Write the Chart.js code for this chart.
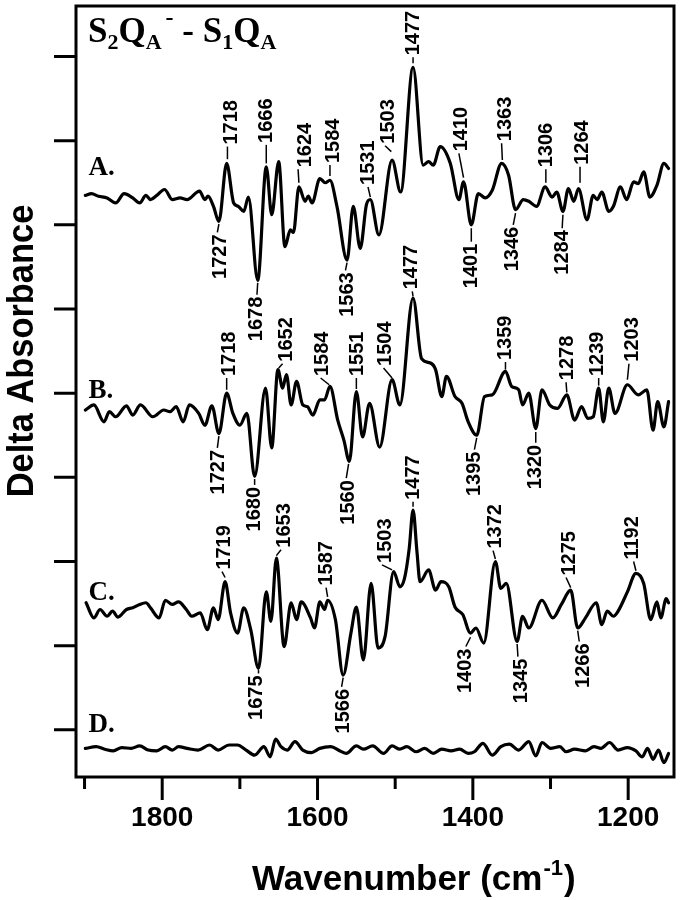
<!DOCTYPE html>
<html><head><meta charset="utf-8">
<script src="https://cdn.jsdelivr.net/npm/chart.js@4.4.1/dist/chart.umd.min.js"></script>
<style>html,body{margin:0;padding:0;background:#fff}canvas{display:block}</style>
</head><body>
<canvas id="c" width="682" height="900" style="width:682px;height:900px"></canvas>
<script>
// ---------- data (wavenumber, cm-1  /  delta absorbance, offset units) ----------
const aWn = [1899,1891,1882,1871,1860,1849,1838,1829,1821,1815,1807,1797,1787,1777,1768,1752,1745,1741,1734,1727,1717,1708,1702,1695,1689,1677,1666,1659,1650,1642,1635,1631,1624,1616,1612,1607,1597,1590,1584,1575,1562,1554,1545,1537,1532,1521,1504,1493,1477,1464,1457,1451,1442,1429,1418,1412,1402,1393,1384,1375,1363,1354,1345,1335,1328,1318,1307,1298,1292,1284,1277,1270,1264,1253,1245,1240,1234,1225,1219,1210,1202,1193,1187,1180,1172,1163,1154,1148];
const aVal = [6.35,6.37,6.34,6.32,6.26,6.37,6.32,6.26,6.35,6.30,6.35,6.42,6.30,6.32,6.30,6.40,6.30,6.34,6.22,6.04,6.73,6.26,6.22,6.16,6.33,5.34,6.69,6.12,6.75,5.74,5.94,5.91,6.45,6.28,6.34,6.26,6.55,6.50,6.53,6.22,5.58,6.22,5.72,6.24,6.30,5.88,6.77,6.39,7.87,6.71,6.75,6.71,6.93,6.73,6.30,6.51,6.00,6.37,6.32,6.41,6.73,6.59,6.18,6.30,6.28,6.22,6.45,6.33,6.39,6.16,6.43,6.28,6.43,6.06,6.35,6.30,6.39,6.16,6.22,6.45,6.30,6.51,6.49,6.63,6.33,6.47,6.73,6.67];

const bWn = [1899,1888,1875,1868,1860,1846,1838,1828,1812,1798,1790,1782,1773,1765,1753,1745,1736,1727,1717,1709,1700,1691,1681,1667,1659,1651,1645,1640,1634,1627,1619,1613,1606,1597,1591,1584,1574,1566,1559,1550,1542,1533,1520,1504,1494,1477,1466,1455,1448,1440,1434,1423,1414,1406,1395,1385,1375,1358,1350,1341,1336,1328,1319,1311,1301,1291,1279,1269,1260,1252,1245,1238,1232,1225,1217,1201,1187,1176,1168,1162,1154,1148];
const bVal = [3.80,3.86,3.66,3.78,3.72,3.85,3.74,3.86,3.72,3.80,3.78,3.84,3.66,3.86,3.76,3.62,3.85,3.52,4.00,3.76,3.62,3.76,3.01,4.06,3.35,4.28,4.06,4.22,3.86,4.14,3.86,3.84,3.74,3.92,3.92,4.08,3.68,3.44,3.19,4.02,3.48,3.88,3.36,4.16,3.86,5.13,4.41,4.36,4.28,3.96,4.20,3.96,3.88,3.66,3.50,3.96,3.98,4.26,4.08,4.04,3.86,4.00,3.58,4.04,3.86,3.82,3.98,3.68,3.84,3.70,3.72,4.06,3.66,4.06,3.76,4.10,3.98,4.04,3.56,3.90,3.60,3.90];

const cWn = [1898,1888,1880,1871,1864,1857,1846,1838,1829,1821,1815,1804,1796,1787,1779,1769,1762,1751,1742,1734,1728,1719,1712,1703,1695,1686,1676,1666,1660,1653,1643,1634,1627,1621,1609,1604,1597,1591,1587,1577,1567,1557,1550,1541,1531,1522,1513,1502,1494,1488,1482,1477,1472,1468,1457,1448,1441,1431,1423,1413,1403,1396,1386,1371,1364,1357,1343,1336,1328,1311,1297,1286,1274,1265,1255,1241,1234,1227,1219,1213,1201,1190,1180,1171,1163,1158,1151,1148];
const cVal = [1.51,1.33,1.43,1.35,1.41,1.34,1.43,1.45,1.49,1.51,1.45,1.33,1.54,1.49,1.52,1.43,1.35,1.39,1.19,1.45,1.31,1.76,1.39,1.15,1.45,1.19,0.73,1.64,1.29,2.04,0.99,1.51,1.31,1.52,1.33,1.21,1.52,1.43,1.54,1.31,0.65,1.15,1.46,0.83,1.74,0.97,1.11,1.88,1.70,1.80,2.15,2.61,2.12,1.76,1.90,1.66,1.76,1.70,1.46,1.37,1.15,1.21,1.03,2.00,1.68,1.74,1.05,1.35,1.21,1.54,1.33,1.49,1.66,1.21,1.33,1.51,1.25,1.41,1.35,1.41,1.64,1.86,1.74,1.31,1.52,1.33,1.56,1.51];

const dWn = [1899,1885,1874,1863,1852,1840,1829,1818,1807,1796,1787,1779,1768,1754,1739,1728,1714,1703,1692,1681,1669,1661,1654,1647,1639,1629,1619,1608,1597,1583,1571,1563,1550,1541,1529,1515,1504,1494,1485,1473,1462,1451,1440,1428,1417,1406,1398,1387,1375,1364,1353,1341,1328,1319,1311,1300,1288,1280,1269,1255,1244,1235,1224,1213,1201,1190,1182,1175,1168,1161,1154,1148];
const dVal = [-0.22,-0.20,-0.23,-0.25,-0.21,-0.22,-0.19,-0.24,-0.25,-0.20,-0.24,-0.20,-0.22,-0.24,-0.18,-0.24,-0.18,-0.18,-0.24,-0.30,-0.20,-0.32,-0.11,-0.20,-0.24,-0.14,-0.24,-0.27,-0.22,-0.20,-0.25,-0.28,-0.19,-0.23,-0.19,-0.28,-0.19,-0.23,-0.20,-0.26,-0.22,-0.28,-0.23,-0.25,-0.23,-0.28,-0.26,-0.16,-0.30,-0.20,-0.17,-0.24,-0.14,-0.31,-0.15,-0.22,-0.20,-0.26,-0.23,-0.25,-0.20,-0.22,-0.15,-0.24,-0.21,-0.25,-0.32,-0.22,-0.35,-0.24,-0.39,-0.28];

const seriesNames = ['A.', 'B.', 'C.', 'D.'];
const xTicks = [1200, 1300, 1400, 1500, 1600, 1700, 1800, 1900];
const xTickLabels = [1200, 1400, 1600, 1800];
const yTicks = [0, 1, 2, 3, 4, 5, 6, 7, 8];
const xTitle = ['Wavenumber (cm', '-1', ')'];
const yTitle = 'Delta Absorbance';

// peak labels: [text, leader start wn, leader start value, leader end wn, leader end value, text centre wn]
const peakLabels = [
  ['1718',1716,6.78,1716,6.93,1711], ['1666',1666,6.73,1666,6.95,1666], ['1624',1624,6.50,1625,6.66,1616],
  ['1584',1584,6.58,1584,6.71,1580], ['1531',1532,6.33,1535,6.45,1535], ['1503',1505,6.87,1513,6.94,1508],
  ['1477',1477,7.92,1477,7.99,1477], ['1410',1412,6.56,1418,6.85,1414], ['1363',1362,6.77,1363,6.97,1358],
  ['1306',1306,6.50,1306,6.66,1305], ['1264',1262,6.50,1262,6.69,1259],
  ['1727',1727,6.01,1729,5.91,1725], ['1678',1677,5.31,1678,5.17,1678], ['1563',1562,5.55,1564,5.46,1562],
  ['1401',1402,5.96,1402,5.80,1402], ['1346',1345,6.14,1348,6.00,1349], ['1284',1284,6.12,1285,5.96,1284],
  ['1718',1717,4.04,1717,4.18,1714], ['1652',1650,4.30,1645,4.35,1640], ['1584',1585,4.10,1596,4.18,1593],
  ['1551',1550,4.05,1550,4.18,1548], ['1504',1504,4.18,1515,4.30,1512], ['1477',1477,5.15,1478,5.21,1479],
  ['1359',1358,4.28,1358,4.37,1358], ['1278',1279,4.01,1280,4.13,1278], ['1239',1238,4.09,1238,4.18,1239],
  ['1203',1201,4.16,1199,4.35,1195],
  ['1727',1727,3.49,1729,3.35,1727], ['1680',1681,2.98,1681,2.91,1681], ['1560',1560,3.16,1563,2.99,1560],
  ['1395',1395,3.47,1398,3.33,1398], ['1320',1319,3.54,1319,3.41,1320],
  ['1719',1719,1.81,1723,1.88,1720], ['1653',1653,2.07,1647,2.14,1642], ['1587',1587,1.58,1589,1.69,1588],
  ['1503',1504,1.90,1517,1.96,1512], ['1477',1477,2.65,1477,2.71,1477], ['1372',1371,2.03,1374,2.13,1371],
  ['1275',1274,1.69,1280,1.81,1276], ['1192',1190,1.89,1193,2.00,1195],
  ['1675',1676,0.71,1676,0.67,1678], ['1566',1567,0.62,1569,0.51,1567], ['1403',1403,1.10,1409,0.99,1410],
  ['1345',1343,1.02,1342,0.87,1338], ['1266',1265,1.18,1263,1.05,1258]
];
// series label anchors: [wn of left edge, baseline value]
const nameAnchors = [[1895, 6.59], [1895, 3.94], [1895, 1.54], [1895, -0.02]];

// ---------- chart ----------
const SANS = '"Liberation Sans", Arial, sans-serif';
const SERIF = '"Liberation Serif", "Times New Roman", serif';
const mk = (wn, val) => wn.map((w, i) => ({x: w, y: val[i]}));
const traces = [mk(aWn, aVal), mk(bWn, bVal), mk(cWn, cVal), mk(dWn, dVal)];

const decor = {
  id: 'decor',
  afterDraw(chart) {
    const {ctx, chartArea: ca, scales: {x, y}} = chart;
    ctx.save();
    ctx.strokeStyle = '#000'; ctx.fillStyle = '#000';
    // frame
    ctx.lineWidth = 3;
    ctx.strokeRect(ca.left, ca.top, ca.right - ca.left, ca.bottom - ca.top);
    // y ticks
    ctx.beginPath();
    yTicks.forEach(v => { const py = y.getPixelForValue(v); ctx.moveTo(ca.left - 22, py); ctx.lineTo(ca.left, py); });
    // x ticks
    xTicks.forEach(v => {
      const px = x.getPixelForValue(v);
      const len = xTickLabels.includes(v) ? 23 : 12;
      ctx.moveTo(px, ca.bottom); ctx.lineTo(px, ca.bottom + len);
    });
    ctx.stroke();

    // peak labels
    ctx.lineWidth = 1.5;
    ctx.font = 'bold 20px ' + SANS;
    ctx.textBaseline = 'middle';
    peakLabels.forEach(([t, x1, y1, x2, y2, tx]) => {
      const p1x = x.getPixelForValue(x1), p1y = y.getPixelForValue(y1);
      const p2x = x.getPixelForValue(x2), p2y = y.getPixelForValue(y2);
      ctx.beginPath(); ctx.moveTo(p1x, p1y); ctx.lineTo(p2x, p2y); ctx.stroke();
      const up = y2 > y1;
      const ptx = x.getPixelForValue(tx);
      ctx.save();
      ctx.translate(ptx, up ? p2y - 2 : p2y + 2);
      ctx.rotate(-Math.PI / 2);
      ctx.textAlign = up ? 'left' : 'right';
      ctx.fillText(t, 0, 0);
      ctx.restore();
    });

    // series names
    ctx.font = 'bold 27px ' + SERIF;
    ctx.textAlign = 'left'; ctx.textBaseline = 'alphabetic';
    seriesNames.forEach((n, i) => {
      ctx.fillText(n, x.getPixelForValue(nameAnchors[i][0]), y.getPixelForValue(nameAnchors[i][1]));
    });

    // title S2QA- - S1QA
    const parts = [['S',35,0],['2',22,7],['Q',35,0],['A',22,7,true],['-',24,-17],[' - ',35,0],['S',35,0],['1',22,7],['Q',35,0],['A',22,7]];
    let tx = ca.left + 12; const ty = ca.top + 36;
    parts.forEach(([s, sz, dy, keep]) => {
      ctx.font = 'bold ' + sz + 'px ' + SERIF;
      ctx.fillText(s, tx, ty + dy);
      tx += ctx.measureText(s).width + (keep ? 4 : 0);
    });

    // x title
    ctx.save();
    ctx.translate(252, 890);
    let xx = 0;
    ctx.font = 'bold 35px ' + SANS; ctx.fillText(xTitle[0], xx, 0); xx += ctx.measureText(xTitle[0]).width;
    ctx.font = 'bold 22px ' + SANS; ctx.fillText(xTitle[1], xx + 1, -15); xx += ctx.measureText(xTitle[1]).width + 2;
    ctx.font = 'bold 35px ' + SANS; ctx.fillText(xTitle[2], xx, 0);
    ctx.restore();

    // y title
    ctx.save();
    ctx.translate(33, 351);
    ctx.rotate(-Math.PI / 2);
    ctx.scale(0.93, 1);
    ctx.font = 'bold 37px ' + SANS;
    ctx.textAlign = 'center';
    ctx.fillText(yTitle, 0, 0);
    ctx.restore();

    ctx.restore();
  }
};

new Chart(document.getElementById('c'), {
  type: 'line',
  data: {
    datasets: traces.map((d, i) => ({
      label: seriesNames[i], data: d, borderColor: '#000', borderWidth: 3.2,
      pointRadius: 0, fill: false, cubicInterpolationMode: 'monotone',
      borderJoinStyle: 'round', borderCapStyle: 'round'
    }))
  },
  options: {
    responsive: false, animation: false, devicePixelRatio: 1,
    layout: {padding: {top: 6, right: 8, left: 0, bottom: 0}},
    plugins: {legend: {display: false}, tooltip: {enabled: false}},
    scales: {
      x: {
        type: 'linear', reverse: true, min: 1141, max: 1911, position: 'bottom',
        afterBuildTicks: s => { s.ticks = xTicks.map(v => ({value: v})); },
        afterFit: s => { s.height = 123; },
        grid: {display: false, drawTicks: true, tickLength: 23},
        border: {display: false},
        ticks: {autoSkip: false, maxRotation: 0, minRotation: 0, padding: 1, color: '#000',
          font: {family: SANS, size: 28, weight: 'bold'},
          callback: v => xTickLabels.includes(v) ? String(v) : ''}
      },
      y: {
        type: 'linear', min: -0.56, max: 8.6,
        afterBuildTicks: s => { s.ticks = yTicks.map(v => ({value: v})); },
        afterFit: s => { s.width = 76; },
        grid: {display: false}, border: {display: false}, ticks: {display: false}
      }
    }
  },
  plugins: [decor]
});
</script></body></html>
